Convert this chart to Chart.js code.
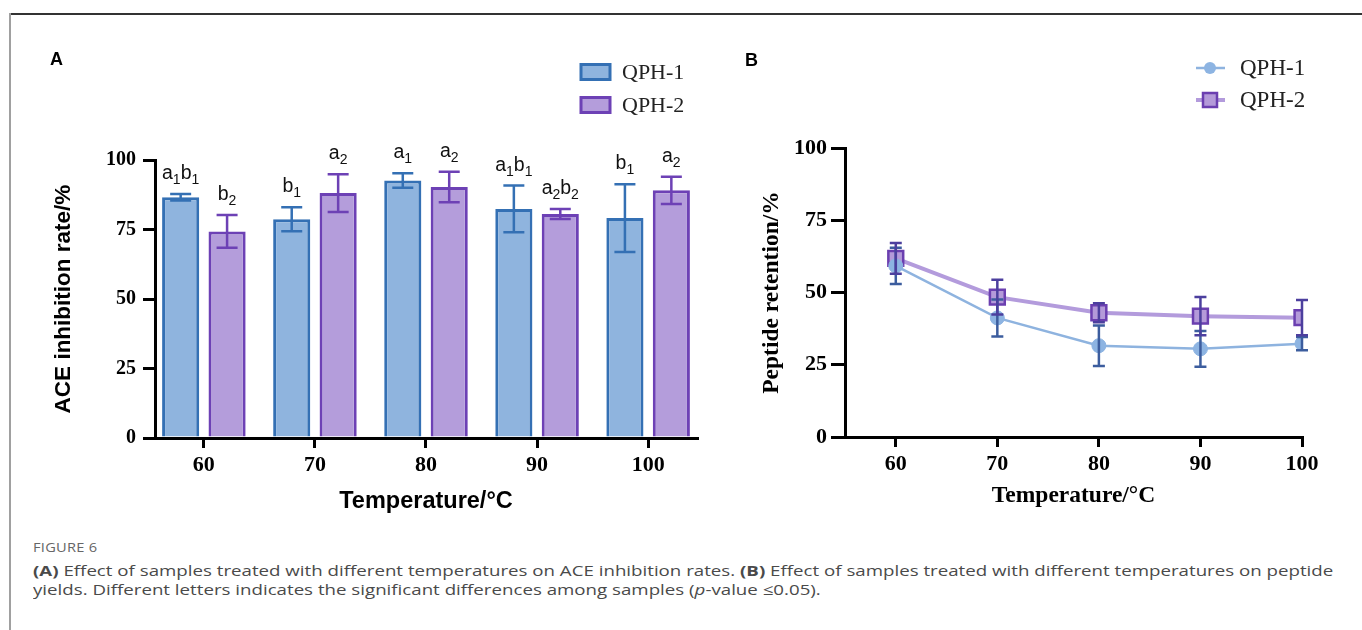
<!DOCTYPE html>
<html>
<head>
<meta charset="utf-8">
<script src="https://cdn.jsdelivr.net/npm/chart.js@4.4.1/dist/chart.umd.min.js"></script>
<style>
  html, body { margin:0; padding:0; background:#fff; width:1362px; height:630px; overflow:hidden; }
  #frameTop { position:absolute; left:9px; top:13px; width:1353px; height:1.5px; background:#333; }
  #frameLeft { position:absolute; left:9px; top:13px; width:2px; height:617px; background:#a0a0a0; }
  #wrapA { position:absolute; left:0; top:0; width:720px; height:530px; }
  #wrapB { position:absolute; left:720px; top:0; width:642px; height:530px; }
  .plabel { position:absolute; font:bold 18px "Liberation Sans", Arial, sans-serif; color:#000; }
  #fig { position:absolute; left:33px; top:539px; font:12px/18px "Open Sans", sans-serif; color:#666; letter-spacing:0.2px; transform:scaleX(1.22); transform-origin:0 0; }
  #cap { position:absolute; left:33px; top:561px; font:15px/19px "Open Sans", sans-serif; color:#4a4a4a; white-space:nowrap; transform:scaleX(1.246); transform-origin:0 0; }
</style>
</head>
<body>
<div id="frameTop"></div>
<div id="frameLeft"></div>
<div id="wrapA"><canvas id="cA" width="720" height="530"></canvas></div>
<div id="wrapB"><canvas id="cB" width="642" height="530"></canvas></div>
<div class="plabel" style="left:50px;top:49px;">A</div>
<div class="plabel" style="left:745px;top:50px;">B</div>
<div id="fig">FIGURE 6</div>
<div id="cap"><b>(A)</b> Effect of samples treated with different temperatures on ACE inhibition rates. <b>(B)</b> Effect of samples treated with different temperatures on peptide<br>yields. Different letters indicates the significant differences among samples (<i>p</i>-value ≤0.05).</div>
<script>
// ---------- DATA ----------
const temperatures = [60, 70, 80, 90, 100];
const yTickValues = [0, 25, 50, 75, 100];
const seriesNames = ['QPH-1', 'QPH-2'];

// Panel A: ACE inhibition rate (%)
const aceQPH1 = [86.6, 78.7, 92.6, 82.4, 79.1];
const aceQPH1Err = [1.2, 4.3, 2.6, 8.4, 12.2];
const aceQPH2 = [74.3, 88.1, 90.3, 80.6, 89.1];
const aceQPH2Err = [5.9, 6.8, 5.5, 1.8, 4.9];
const lettersQPH1 = ['a1b1', 'b1', 'a1', 'a1b1', 'b1'];
const lettersQPH2 = ['b2', 'a2', 'a2', 'a2b2', 'a2'];

// Panel B: peptide retention (%)
const retQPH1 = [59.2, 41.2, 31.6, 30.5, 32.3];
const retQPH1Err = [6.3, 6.4, 7.0, 6.2, 2.3];
const retQPH2 = [61.8, 48.4, 43.0, 41.8, 41.3];
const retQPH2Err = [5.3, 6.0, 3.3, 6.6, 6.1];

// ---------- STYLE ----------
const serif = '"Liberation Serif", "Times New Roman", serif';
const sans = '"Liberation Sans", Arial, sans-serif';
const blueFill = '#8fb4de', blueLine = '#3470b4';
const purpFill = '#b49ddb', purpLine = '#6d41b5';

function toPoints(xs, ys) { return xs.map((x, i) => ({x: x, y: ys[i]})); }

// error bars + significance letters for bars
const barExtras = {
  id: 'barExtras',
  afterDatasetsDraw(chart) {
    const ctx = chart.ctx;
    const ys = chart.scales.y;
    chart.data.datasets.forEach((ds, di) => {
      const meta = chart.getDatasetMeta(di);
      meta.data.forEach((el, i) => {
        const v = ds.data[i].y, e = ds.errors[i];
        const yt = ys.getPixelForValue(v + e), yb = ys.getPixelForValue(v - e);
        ctx.save();
        ctx.strokeStyle = ds.borderColor; ctx.lineWidth = 2.5;
        ctx.beginPath();
        ctx.moveTo(el.x, yt); ctx.lineTo(el.x, yb);
        ctx.moveTo(el.x - 10.5, yt); ctx.lineTo(el.x + 10.5, yt);
        ctx.moveTo(el.x - 10.5, yb); ctx.lineTo(el.x + 10.5, yb);
        ctx.stroke();
        // letters
        const txt = ds.letters[i];
        const parts = [];
        const re = /([a-z])(\d)/g; let m;
        while ((m = re.exec(txt)) !== null) parts.push(m[1], m[2]);
        const fMain = '19.5px ' + sans, fSub = '14px ' + sans;
        let w = 0;
        parts.forEach((p, k) => { ctx.font = (k % 2 ? fSub : fMain); w += ctx.measureText(p).width; });
        let x = el.x - w / 2;
        const base = yt - 15;
        ctx.fillStyle = '#111'; ctx.textBaseline = 'alphabetic'; ctx.textAlign = 'left';
        parts.forEach((p, k) => {
          ctx.font = (k % 2 ? fSub : fMain);
          ctx.fillText(p, x, k % 2 ? base + 5 : base);
          x += ctx.measureText(p).width;
        });
        ctx.restore();
      });
    });
  }
};

const legendA = {
  id: 'legendA',
  afterDraw(chart) {
    const ctx = chart.ctx;
    const rows = [72, 105];
    chart.data.datasets.forEach((ds, i) => {
      ctx.save();
      ctx.fillStyle = ds.backgroundColor; ctx.strokeStyle = ds.borderColor; ctx.lineWidth = 3;
      ctx.fillRect(581, rows[i] - 7.5, 29, 15);
      ctx.strokeRect(581, rows[i] - 7.5, 29, 15);
      ctx.fillStyle = '#222'; ctx.font = '22px ' + serif; ctx.textBaseline = 'middle';
      ctx.fillText(ds.label, 622, rows[i] + 1);
      ctx.restore();
    });
  }
};

function fixedTicks(values) { return s => { s.ticks = values.map(v => ({value: v})); }; }

new Chart(document.getElementById('cA'), {
  type: 'bar',
  data: {
    datasets: [
      {label: seriesNames[0], data: toPoints(temperatures, aceQPH1), errors: aceQPH1Err, letters: lettersQPH1,
       backgroundColor: blueFill, borderColor: blueLine, borderWidth: 3, categoryPercentage: 0.836, barPercentage: 0.8},
      {label: seriesNames[1], data: toPoints(temperatures, aceQPH2), errors: aceQPH2Err, letters: lettersQPH2,
       backgroundColor: purpFill, borderColor: purpLine, borderWidth: 3, categoryPercentage: 0.836, barPercentage: 0.8}
    ]
  },
  options: {
    responsive: false, animation: false,
    layout: {padding: {left: 0, top: 160, right: 23, bottom: 0}},
    plugins: {legend: {display: false}, tooltip: {enabled: false}},
    scales: {
      x: {
        type: 'linear', min: 55.6, max: 104.4, offset: false,
        afterBuildTicks: fixedTicks(temperatures),
        afterFit: s => { s.height = 92; },
        grid: {offset: false, drawOnChartArea: false, drawTicks: true, tickLength: 10, tickColor: '#000', tickWidth: 3, lineWidth: 3},
        border: {display: true, color: '#000', width: 3},
        ticks: {color: '#000', font: {family: serif, weight: 'bold', size: 22}, padding: 4, maxRotation: 0, autoSkip: false},
        title: {display: true, text: 'Temperature/°C', color: '#000', font: {family: sans, weight: 'bold', size: 23.5}, padding: {top: 0, bottom: 14}}
      },
      y: {
        min: 0, max: 100,
        afterBuildTicks: fixedTicks(yTickValues),
        afterFit: s => { s.width = 155; },
        grid: {drawOnChartArea: false, drawTicks: true, tickLength: 12, tickColor: '#000', tickWidth: 3, lineWidth: 3},
        border: {display: true, color: '#000', width: 3},
        ticks: {color: '#000', font: {family: serif, weight: 'bold', size: 20}, padding: 7},
        title: {display: true, text: 'ACE inhibition rate/%', color: '#000', font: {family: sans, weight: 'bold', size: 22.5}, padding: {top: 50.5, bottom: 0}}
      }
    }
  },
  plugins: [barExtras, legendA]
});

// ---------- Panel B ----------
const lineErrors = {
  id: 'lineErrors',
  afterDatasetsDraw(chart) {
    const ctx = chart.ctx, ys = chart.scales.y;
    chart.data.datasets.forEach((ds, di) => {
      const meta = chart.getDatasetMeta(di);
      meta.data.forEach((pt, i) => {
        const v = ds.data[i].y, e = ds.errors[i];
        const yt = ys.getPixelForValue(v + e), yb = ys.getPixelForValue(v - e);
        ctx.save();
        ctx.strokeStyle = ds.errColor; ctx.lineWidth = 2.5;
        ctx.beginPath();
        ctx.moveTo(pt.x, yt); ctx.lineTo(pt.x, yb);
        ctx.moveTo(pt.x - 6, yt); ctx.lineTo(pt.x + 6, yt);
        ctx.moveTo(pt.x - 6, yb); ctx.lineTo(pt.x + 6, yb);
        ctx.stroke();
        ctx.restore();
      });
    });
  }
};

const legendB = {
  id: 'legendB',
  afterDraw(chart) {
    const ctx = chart.ctx;
    const rows = [68, 100];
    const x0 = 476, x1 = 505, xc = 490;
    chart.data.datasets.forEach((ds, i) => {
      ctx.save();
      ctx.strokeStyle = ds.borderColor; ctx.lineWidth = ds.borderWidth;
      ctx.beginPath(); ctx.moveTo(x0, rows[i]); ctx.lineTo(x1, rows[i]); ctx.stroke();
      ctx.fillStyle = ds.pointBackgroundColor; ctx.strokeStyle = ds.pointBorderColor; ctx.lineWidth = ds.pointBorderWidth;
      if (ds.pointStyle === 'circle') {
        ctx.beginPath(); ctx.arc(xc, rows[i], 6, 0, Math.PI * 2); ctx.fill();
      } else {
        ctx.fillRect(xc - 7, rows[i] - 7, 14, 14); ctx.strokeRect(xc - 7, rows[i] - 7, 14, 14);
      }
      ctx.fillStyle = '#222'; ctx.font = '23px ' + serif; ctx.textBaseline = 'middle';
      ctx.fillText(ds.label, 520, rows[i] + 1);
      ctx.restore();
    });
  }
};

new Chart(document.getElementById('cB'), {
  type: 'line',
  data: {
    datasets: [
      {label: seriesNames[0], data: toPoints(temperatures, retQPH1), errors: retQPH1Err, errColor: '#3c5d9e',
       borderColor: '#8eb3df', borderWidth: 2.5, pointStyle: 'circle', pointRadius: 7,
       pointBackgroundColor: '#8db4e2', pointBorderColor: '#8db4e2', pointBorderWidth: 1, tension: 0},
      {label: seriesNames[1], data: toPoints(temperatures, retQPH2), errors: retQPH2Err, errColor: '#4c3f9e',
       borderColor: '#b39bdc', borderWidth: 4, pointStyle: 'rect', pointRadius: 10.5,
       pointBackgroundColor: '#b49ad9', pointBorderColor: '#6b3fb0', pointBorderWidth: 2.5, tension: 0}
    ]
  },
  options: {
    responsive: false, animation: false,
    layout: {padding: {left: 0, top: 148, right: 60, bottom: 0}},
    plugins: {legend: {display: false}, tooltip: {enabled: false}},
    scales: {
      x: {
        type: 'linear', min: 55, max: 100,
        afterBuildTicks: fixedTicks(temperatures),
        afterFit: s => { s.height = 93; },
        grid: {drawOnChartArea: false, drawTicks: true, tickLength: 10, tickColor: '#000', tickWidth: 3, lineWidth: 3},
        border: {display: true, color: '#000', width: 3},
        ticks: {color: '#000', font: {family: serif, weight: 'bold', size: 22}, padding: 4, maxRotation: 0, autoSkip: false},
        title: {display: true, text: 'Temperature/°C', color: '#000', font: {family: serif, weight: 'bold', size: 23.5}, padding: {top: 0, bottom: 20}}
      },
      y: {
        min: 0, max: 100,
        afterBuildTicks: fixedTicks(yTickValues),
        afterFit: s => { s.width = 125; },
        grid: {drawOnChartArea: false, drawTicks: true, tickLength: 14, tickColor: '#000', tickWidth: 3, lineWidth: 3},
        border: {display: true, color: '#000', width: 3},
        ticks: {color: '#000', font: {family: serif, weight: 'bold', size: 22}, padding: 4},
        title: {display: true, text: 'Peptide retention/%', color: '#000', font: {family: serif, weight: 'bold', size: 23.5}, padding: {top: 38, bottom: 0}}
      }
    }
  },
  plugins: [lineErrors, legendB]
});
</script>
</body>
</html>
